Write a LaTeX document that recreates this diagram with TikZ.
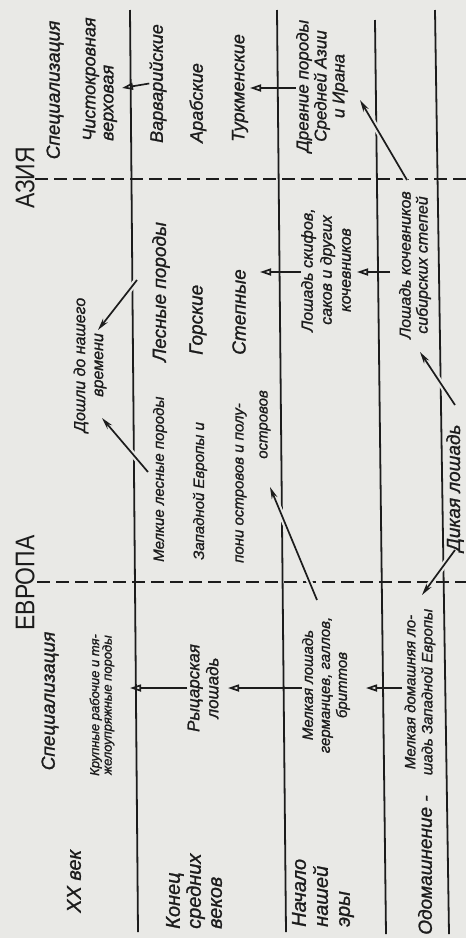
\documentclass[tikz,border=0pt]{standalone}
\usepackage{fontspec}
\setmainfont{Liberation Sans}[ItalicFeatures={FakeBold=1.2}]
\newfontfamily\headfont{Liberation Sans}[FakeStretch=0.85]
\usetikzlibrary{arrows.meta}
\definecolor{paper}{RGB}{233,233,230}
\definecolor{ink}{RGB}{28,28,28}

\begin{document}
\begin{tikzpicture}[x=1pt,y=-1pt,
  txt/.style={rotate=90, inner sep=0pt, text=ink},
  fs/.style 2 args={font=\fontsize{#1}{#2}\selectfont\itshape},
  hd/.style={rotate=90, inner sep=0pt, text=ink, font=\fontsize{27}{27}\selectfont\headfont},
  rule/.style={draw=ink, line width=1.8pt},
  border/.style={draw=ink, line width=2.8pt, dash pattern=on 13pt off 6pt},
  harrow/.style={draw=ink, line width=1.7pt, -{Triangle[open, length=11pt, width=7pt]}},
  darrow/.style={draw=ink, line width=1.7pt, -{Stealth[length=12pt, width=6pt]},
    preaction={draw=paper, line width=6pt, -}}
]

% paper
\fill[paper] (0,0) rectangle (466,938);
\useasboundingbox (0,0) rectangle (466,938);

% row rules
\draw[rule] (130,10) -- (138,932);
\draw[rule] (277,10) -- (286,932);
\draw[rule] (375,20) -- (386,934);
\draw[rule] (435,10) -- (449,934);

% borders Europe / Asia
\draw[border] (37,582) -- (466,582);
\draw[border] (35,179) -- (466,179);

% headers
\node[hd] (evropa) at (25,583) {ЕВРОПА};
\node[hd] (aziya) at (25,178) {АЗИЯ};
\node[txt, fs={19}{19}] (spec1) at (50,701) {Специализация};
\node[txt, fs={19}{19}] (spec2) at (55,90) {Специализация};

% eras
\node[txt, fs={20}{20}, anchor=west] (xxvek) at (74,913) {XX век};
\node[txt, fs={20}{21}, align=left, anchor=west] (konec) at (194,929) {Конец\\средних\\веков};
\node[txt, fs={20}{22}, align=left, anchor=west] (nachalo) at (323,927) {Начало\\нашей\\эры};
\node[txt, fs={19}{19}] (odom) at (425,865) {Одомашнение -};

% Europe
\node[txt, fs={13}{12.5}, align=center] (krup) at (102,705) {Крупные рабочие и тя-\\желоупряжные породы};
\node[txt, fs={17}{19}, align=center] (rytsar) at (203,688) {Рыцарская\\лошадь};
\node[txt, fs={15}{17}, align=center] (germ) at (326,685) {Мелкая лошадь\\германцев, галлов,\\бриттов};
\node[txt, fs={15}{17}, align=center] (domash) at (420,692) {Мелкая домашняя ло-\\шадь Западной Европы};

% between
\node[txt, fs={16}{18}, align=center] (doshli) at (90,365) {Дошли до нашего\\времени};
\node[txt, fs={15}{15}, anchor=west] (melkie) at (160,562) {Мелкие лесные породы};
\node[txt, fs={15}{15}, anchor=west] (zapad) at (200,560) {Западной Европы и};
\node[txt, fs={15}{15}, anchor=west] (poni) at (241,563) {пони островов и полу-};
\node[txt, fs={15}{15}, anchor=east] (ostr) at (265,390) {островов};
\node[txt, fs={19}{19}, anchor=west] (lesnye) at (161,362) {Лесные породы};
\node[txt, fs={19}{19}, anchor=west] (gorskie) at (198,355) {Горские};
\node[txt, fs={19}{19}, anchor=west] (stepnye) at (239,355) {Степные};
\node[txt, fs={16}{19}, align=center] (skif) at (326,270) {Лошадь скифов,\\саков и других\\кочевников};
\node[txt, fs={16}{17}, align=center] (kochev) at (415,265) {Лошадь кочевников\\сибирских степей};
\node[txt, fs={19}{19}] (dikaya) at (455,488) {Дикая лошадь};

% Asia
\node[txt, fs={18}{18}, align=left, anchor=west] (chisto) at (100,141) {Чистокровная\\верховая};
\node[txt, fs={18}{18}, anchor=west] (varv) at (158,143) {Варварийские};
\node[txt, fs={18}{18}, anchor=west] (arab) at (198,143) {Арабские};
\node[txt, fs={18}{18}, anchor=west] (turkm) at (240,142) {Туркменские};
\node[txt, fs={17}{18}, align=center] (drevnie) at (322,86) {Древние породы\\Средней Азии\\и Ирана};

% arrow ends
\coordinate (h1) at (122,88);
\coordinate (h2) at (250,88);
\coordinate (h3) at (260,272);
\coordinate (h4s) at (390,272);
\coordinate (h4) at (357,272);
\coordinate (h5) at (130,688);
\coordinate (h6) at (228,688);
\coordinate (h7s) at (402,688);
\coordinate (h7) at (366,688);

% horizontal arrows
\draw[harrow] (varv.north) -- (h1);
\draw[harrow] (drevnie.north |- h2) -- (h2);
\draw[harrow] (skif.north |- h3) -- (h3);
\draw[harrow] (h4s) -- (h4);
\draw[harrow] (rytsar.north) -- (h5);
\draw[harrow] (germ.north |- h6) -- (h6);
\draw[harrow] (h7s) -- (h7);

% diagonal arrows
\coordinate (d1s) at (137,280);  \coordinate (d1) at (98,330);
\coordinate (d2s) at (148,472);  \coordinate (d2) at (102,418);
\coordinate (d3s) at (317,600);  \coordinate (d3) at (270,487);
\coordinate (d4s) at (455,405);  \coordinate (d4) at (420,352);
\coordinate (d5s) at (455,550);  \coordinate (d5) at (422,595);
\coordinate (d6s) at (407,180);  \coordinate (d6) at (360,100);
\draw[darrow] (d1s) -- (d1);
\draw[darrow] (d2s) -- (d2);
\draw[darrow] (d3s) -- (d3);
\draw[darrow] (d4s) -- (d4);
\draw[darrow] (d5s) -- (d5);
\draw[darrow] (d6s) -- (d6);

\end{tikzpicture}
\end{document}
